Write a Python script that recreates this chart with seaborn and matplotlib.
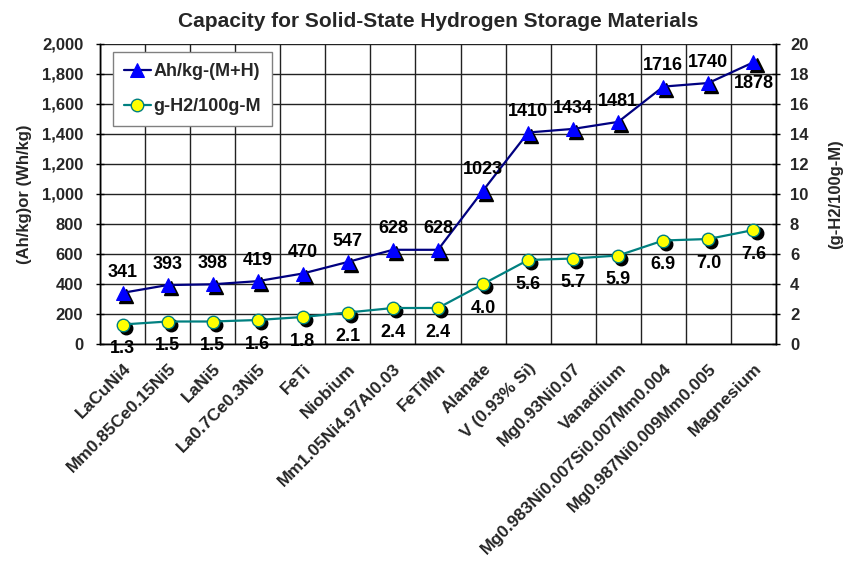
import matplotlib
matplotlib.use("Agg")
import matplotlib.pyplot as plt
import matplotlib.transforms as mtransforms
from matplotlib.ticker import FuncFormatter, MultipleLocator, FixedLocator
import seaborn as sns
import pandas as pd

# Materials and their storage capacities
materials = [
    "LaCuNi4", "Mm0.85Ce0.15Ni5", "LaNi5", "La0.7Ce0.3Ni5", "FeTi", "Niobium",
    "Mm1.05Ni4.97Al0.03", "FeTiMn", "Alanate", "V (0.93% Si)", "Mg0.93Ni0.07",
    "Vanadiium", "Mg0.983Ni0.007Si0.007Mm0.004", "Mg0.987Ni0.009Mm0.005", "Magnesium",
]
ah_per_kg = [341, 393, 398, 419, 470, 547, 628, 628, 1023, 1410, 1434, 1481, 1716, 1740, 1878]
h2_per_100g = [1.3, 1.5, 1.5, 1.6, 1.8, 2.1, 2.4, 2.4, 4.0, 5.6, 5.7, 5.9, 6.9, 7.0, 7.6]

series_names = ["Ah/kg-(M+H)", "g-H2/100g-M"]

df = pd.DataFrame({"pos": range(len(materials)), "material": materials,
                   "ah": ah_per_kg, "h2": h2_per_100g})

sns.set_theme(style="white")
plt.rcParams["font.family"] = ["Liberation Sans", "DejaVu Sans"]
plt.rcParams["font.weight"] = "bold"

W, H = 849, 564
fig = plt.figure(figsize=(W / 100, H / 100), dpi=100)
fig.subplots_adjust(left=100 / W, right=776 / W, top=1 - 44 / H, bottom=1 - 344 / H)
ax = fig.add_subplot(111)
ax2 = ax.twinx()

blue_line = "#000080"
blue_mark = "#0000FF"
teal = "#008080"
yellow = "#FFFF00"

# drop-shadow transforms for the markers
sh1 = mtransforms.offset_copy(ax.transData, fig=fig, x=2.2, y=-2.2, units="points")
sh2 = mtransforms.offset_copy(ax2.transData, fig=fig, x=2.2, y=-2.2, units="points")

ax.plot(df["pos"], df["ah"], linestyle="none", marker="^", ms=9.5,
        color="black", mec="black", transform=sh1, zorder=2)
sns.lineplot(data=df, x="pos", y="ah", ax=ax, color=blue_line, lw=1.6,
             marker="^", markersize=9.5, markerfacecolor=blue_mark,
             markeredgecolor=blue_mark, label=series_names[0], zorder=3, legend=False)

ax2.plot(df["pos"], df["h2"], linestyle="none", marker="o", ms=9,
         color="black", mec="black", transform=sh2, zorder=2)
sns.lineplot(data=df, x="pos", y="h2", ax=ax2, color=teal, lw=1.6,
             marker="o", markersize=9, markerfacecolor=yellow,
             markeredgecolor=teal, markeredgewidth=1.0,
             label=series_names[1], zorder=3, legend=False)

# value labels
label_fs = 13
for i, v in enumerate(ah_per_kg):
    dy = -15 if i == len(ah_per_kg) - 1 else 15
    ax.annotate(f"{v}", (i, v), xytext=(0, dy), textcoords="offset points",
                ha="center", va="center", fontsize=label_fs, fontweight="bold",
                color="black", zorder=5)
for i, v in enumerate(h2_per_100g):
    ax2.annotate(f"{v:.1f}", (i, v), xytext=(0, -17.5), textcoords="offset points",
                 ha="center", va="center", fontsize=label_fs, fontweight="bold",
                 color="black", zorder=5)

# axes limits and ticks
ax.set_xlim(-0.5, len(materials) - 0.5)
ax.set_ylim(0, 2000)
ax2.set_ylim(0, 20)
ax.yaxis.set_major_locator(MultipleLocator(200))
ax2.yaxis.set_major_locator(MultipleLocator(2))
ax.yaxis.set_major_formatter(FuncFormatter(lambda v, p: f"{int(v):,}"))

ax.set_xticks(range(len(materials)))
ax.set_xticklabels(materials, rotation=45, ha="right", va="center",
                   rotation_mode="anchor", fontsize=12.5, fontweight="bold")
ax.xaxis.set_minor_locator(FixedLocator([i - 0.5 for i in range(len(materials) + 1)]))
ax.tick_params(axis="x", which="major", length=0, pad=16)
ax.tick_params(axis="x", which="minor", length=6, direction="inout", width=1, color="black")
shift = mtransforms.ScaledTranslation(4 / 72, 0, fig.dpi_scale_trans)
for lab in ax.get_xticklabels():
    lab.set_transform(lab.get_transform() + shift)

ax.tick_params(axis="y", which="major", length=6, direction="inout", width=1,
               color="black", labelsize=12, pad=9)
ax2.tick_params(axis="y", which="major", length=6, direction="inout", width=1,
                color="black", labelsize=12, pad=7)
for lab in ax.get_yticklabels() + ax2.get_yticklabels():
    lab.set_fontweight("bold")

ax.grid(False)
ax2.grid(False)
ax.grid(True, axis="y", which="major", color="#222222", lw=1.0)
ax.grid(True, axis="x", which="minor", color="#222222", lw=1.0)
ax.set_axisbelow(True)

for a in (ax, ax2):
    for s in a.spines.values():
        s.set_color("black")
        s.set_linewidth(1.0)
ax.spines["top"].set_visible(False)
ax2.spines["top"].set_visible(False)

ax.set_xlabel("")
ax.set_ylabel("(Ah/kg)or (Wh/kg)", fontsize=12, fontweight="bold", labelpad=7)
ax2.set_ylabel("(g-H2/100g-M)", fontsize=12, fontweight="bold", labelpad=14)

ax.set_title("Capacity for Solid-State Hydrogen Storage Materials",
             fontsize=15, fontweight="bold", pad=12)

# legend built from both series
h1, l1 = ax.get_legend_handles_labels()
h2, l2 = ax2.get_legend_handles_labels()
leg = ax2.legend(h1 + h2, l1 + l2, loc="upper left", bbox_to_anchor=(0.019, 0.973),
                 borderaxespad=0, frameon=True, fancybox=False, framealpha=1,
                 edgecolor="#808080", prop={"weight": "bold", "size": 13},
                 handlelength=1.5, borderpad=0.6, labelspacing=1.0,
                 handletextpad=0.15)
leg.get_frame().set_linewidth(1.0)
leg.set_zorder(10)

fig.savefig("out.png", dpi=100)
